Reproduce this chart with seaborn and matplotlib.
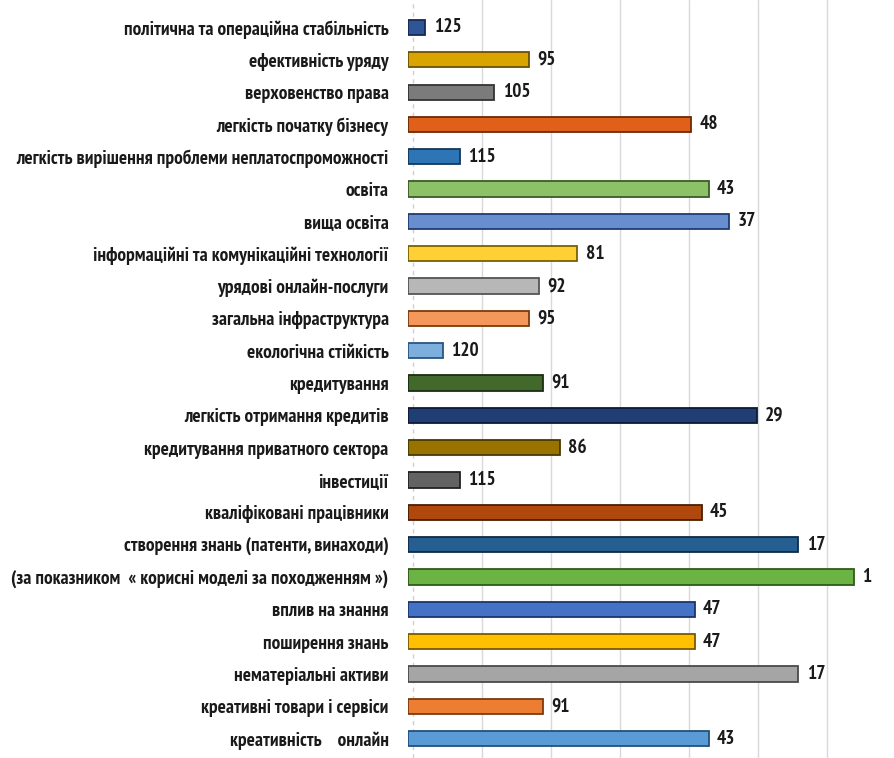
import matplotlib
matplotlib.use("Agg")
from matplotlib import pyplot as plt
from matplotlib import font_manager
import pandas as pd
import seaborn as sns

# categories, top to bottom
categories = [
    "політична та операційна стабільність",
    "ефективність уряду",
    "верховенство права",
    "легкість початку бізнесу",
    "легкість вирішення проблеми неплатоспроможності",
    "освіта",
    "вища освіта",
    "інформаційні та комунікаційні технології",
    "урядові онлайн-послуги",
    "загальна інфраструктура",
    "екологічна стійкість",
    "кредитування",
    "легкість отримання кредитів",
    "кредитування приватного сектора",
    "інвестиції",
    "кваліфіковані працівники",
    "створення знань (патенти, винаходи)",
    "(за показником  « корисні моделі за походженням »)",
    "вплив на знання",
    "поширення знань",
    "нематеріальні активи",
    "креативні товари і сервіси",
    "креативність    онлайн",
]

# rank labels shown at the bar ends
ranks = [125, 95, 105, 48, 115, 43, 37, 81, 92, 95, 120, 91, 29, 86, 115,
         45, 17, 1, 47, 47, 17, 91, 43]

# bar lengths (longer = better place)
lengths = [5, 35, 25, 82, 15, 87, 93, 49, 38, 35, 10, 39, 101, 44, 15,
           85, 113, 129, 83, 83, 113, 39, 87]

colours = [
    "#2F5597", "#D9A300", "#7B7B7B", "#E0601A", "#2E75B6", "#8CC168",
    "#698ED0", "#FFD034", "#B7B7B7", "#F4975A", "#7CAFDD", "#43682B",
    "#203D74", "#997300", "#636363", "#B0480E", "#255E91", "#6BB443",
    "#4472C4", "#FFC000", "#A5A5A5", "#ED7D31", "#5B9BD5",
]
edges = [
    "#152a55", "#6b5000", "#333333", "#6b2a05", "#15385a", "#3c5a25",
    "#1f3a75", "#7a6000", "#555555", "#7a3a10", "#2a5580", "#1c2e12",
    "#0c1a35", "#4a3800", "#222222", "#4a1f04", "#0f2a45", "#2f5a1c",
    "#1c3470", "#7a5a00", "#4a4a4a", "#7a3a10", "#22507f",
]

df = pd.DataFrame({"name": categories, "len": lengths, "rank": ranks})

sns.set_style("white")

# narrow calibri-like font if there is one
names = {f.name for f in font_manager.fontManager.ttflist}
fam = "DejaVu Sans"
for cand in ["PT Sans Narrow", "Open Sans Condensed", "Carlito"]:
    if cand in names:
        fam = cand
        break
plt.rcParams["font.family"] = [fam, "DejaVu Sans"]
weight = "bold"

fig = plt.figure(figsize=(8.95, 7.58), dpi=100)
ax = fig.add_axes([0.456, 0.0, 0.544, 1.0])

sns.barplot(data=df, x="len", y="name", hue="name", palette=colours,
            saturation=1, orient="h", width=0.47, legend=False, ax=ax,
            zorder=3)

for patch, ec in zip(ax.patches, edges):
    patch.set_edgecolor(ec)
    patch.set_linewidth(1.3)

for gx in range(20, 160, 20):
    ax.axvline(gx + 1.4, color="#d9d9d9", lw=1.0, zorder=0)
ax.axvline(1.4, color="#cfcfcf", lw=1.0, ls=(0, (3, 3)), zorder=0)

ax.set_xlim(0, 141)
ax.set_ylim(22.6, -0.85)
ax.set_xlabel("")
ax.set_ylabel("")
ax.set_xticks([])
ax.tick_params(axis="y", length=0, pad=14)

# fit label size so the first label spans about 263 px as in the picture
size = 12.0
renderer = fig.canvas.get_renderer()
for lbl in ax.get_yticklabels():
    lbl.set_fontweight(weight)
    lbl.set_color("#1a1a1a")
    lbl.set_fontsize(size)
w = ax.get_yticklabels()[0].get_window_extent(renderer).width
size = size * 263.0 / w
for lbl in ax.get_yticklabels():
    lbl.set_fontsize(size)

for i, (l, r) in enumerate(zip(lengths, ranks)):
    ax.text(l + 2.4, i, str(r), va="center", ha="left", fontsize=size,
            fontweight=weight, color="#1a1a1a")

for s in ax.spines.values():
    s.set_visible(False)

fig.savefig("out.png", dpi=100)
